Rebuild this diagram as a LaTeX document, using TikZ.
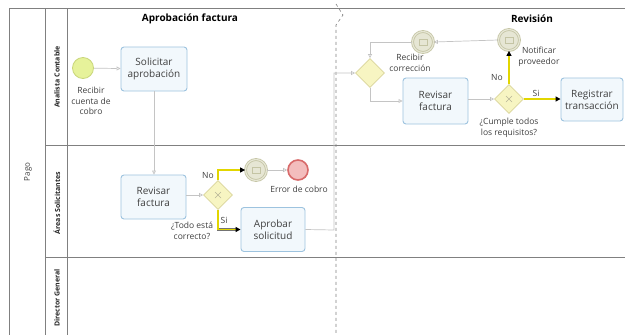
\documentclass[tikz,border=0pt]{standalone}
\usepackage{fontspec}
\setmainfont{Open Sans}
\usetikzlibrary{arrows.meta,shapes.geometric,calc}
\definecolor{frame}{HTML}{808080}
\definecolor{conn}{HTML}{C4C4C4}
\definecolor{taskb}{HTML}{9DC3DF}
\definecolor{taskf}{HTML}{F2F8FC}
\definecolor{txt}{HTML}{404040}
\definecolor{gwf}{HTML}{F7F5C2}
\definecolor{gwb}{HTML}{DAD59A}
\definecolor{evf}{HTML}{E6E6D4}
\definecolor{evb}{HTML}{C4C4A4}
\definecolor{stf}{HTML}{E6F29A}
\definecolor{stb}{HTML}{C9D67A}
\definecolor{endf}{HTML}{F3BDBD}
\definecolor{endb}{HTML}{D86A6A}
\definecolor{hl}{HTML}{E2D600}
\tikzset{
  task/.style={draw=taskb, fill=taskf, rounded corners=3pt, line width=0.9pt,
    minimum width=64pt, minimum height=44pt, align=center, text=txt,
    font=\fontsize{10}{12}\selectfont, inner sep=1pt},
  gw/.style={diamond, draw=gwb, fill=gwf, line width=0.8pt, minimum width=29pt,
    minimum height=29pt, inner sep=0pt},
  startev/.style={circle, draw=stb, fill=stf, line width=0.8pt, minimum size=21pt, inner sep=0pt},
  midev/.style={circle, draw=evb, fill=evf, line width=0.8pt, minimum size=21pt, inner sep=0pt,
    double=evf, double distance=1.2pt},
  endev/.style={circle, draw=endb, fill=endf, line width=1.6pt, minimum size=20pt, inner sep=0pt},
  lbl/.style={text=txt, font=\fontsize{8.5}{10.5}\selectfont, align=center, inner sep=0pt},
  flow/.style={draw=conn, line width=0.7pt, -{Triangle[open, length=4pt, width=4pt]}},
  hot/.style={draw=hl, line width=1.8pt,
    preaction={draw=black!55, line width=2.4pt, arrows=-, shorten >=4pt},
    -{Triangle[length=5pt, width=5pt, black]}},
  lanelbl/.style={rotate=90, font=\bfseries\fontsize{7}{8}\selectfont, text=black!85},
  title/.style={font=\bfseries\fontsize{10}{12}\selectfont},
  frameline/.style={draw=frame, line width=0.8pt},
  gwmark/.style={draw=gwb!70!black!70, line width=0.5pt},
  evmark/.style={draw=evb, line width=0.5pt}
}
\begin{document}
\begin{tikzpicture}[x=1pt, y=-1pt]
\useasboundingbox (0,0) rectangle (625,335);
\fill[white] (0,0) rectangle (625,335);
% frame
\draw[frameline] (9,335) -- (9,8) -- (625,8);
\draw[frameline] (45,8) -- (45,335);
\draw[frameline] (67,8) -- (67,335);
\draw[frameline] (45,145) -- (625,145);
\draw[frameline] (45,257) -- (625,257);
% phase separator
\draw[draw=frame, dashed, line width=0.6pt] (336,4) -- (343,15) -- (336,25) -- (336,335);
% labels of pool and lanes
\node[rotate=90, text=txt, font=\fontsize{8}{9}\selectfont] (pool) at (28,172) {Pago};
\node[lanelbl] (l1) at (57,77) {Analista Contable};
\node[lanelbl] (l2) at (57,203) {Áreas Solicitantes};
\node[lanelbl] (l3) at (57,298) {Director General};
% titles
\node[title] (t1) at (190,19) {Aprobación factura};
\node[title] (t2) at (532,19) {Revisión};
% lane 1, phase 1
\node[startev] (s) at (83,68) {};
\node[lbl] (sl) at (91,101) {Recibir\\cuenta de\\cobro};
\node[task, minimum width=66pt] (sol) at (154,69) {Solicitar\\aprobación};
% lane 2
\node[task, minimum width=65pt] (rev1) at (153.5,197) {Revisar\\factura};
\node[gw] (g1) at (218,195) {};
\draw[gwmark] ($(g1)+(-3,-3)$) -- ($(g1)+(3,3)$) ($(g1)+(-3,3)$) -- ($(g1)+(3,-3)$);
\node[midev] (e1) at (256,170) {};
\draw[evmark] ($(e1)+(-4,-3)$) rectangle ($(e1)+(4,3)$);
\node[endev] (err) at (298,170) {};
\node[lbl] (errl) at (299,189) {Error de cobro};
\node[task] (apr) at (273,229.5) {Aprobar\\solicitud};
\node[lbl] (g1l) at (192,231) {¿Todo está\\correcto?};
% lane 1, phase 2
\node[gw] (g2) at (370,73) {};
\node[midev] (rc) at (423,42) {};
\draw[evmark] ($(rc)+(-4,-3)$) rectangle ($(rc)+(4,3)$);
\node[lbl] (rcl) at (410,63) {Recibir\\corrección};
\node[task, minimum width=65pt, minimum height=46pt] (rev2) at (435.5,101) {Revisar\\factura};
\node[gw] (g3) at (509,99) {};
\draw[gwmark] ($(g3)+(-3,-3)$) -- ($(g3)+(3,3)$) ($(g3)+(-3,3)$) -- ($(g3)+(3,-3)$);
\node[midev] (np) at (509,40) {};
\draw[evmark] ($(np)+(-4,-3)$) rectangle ($(np)+(4,3)$);
\node[lbl] (npl) at (539,57) {Notificar\\proveedor};
\node[task, minimum width=62pt, minimum height=43pt] (reg) at (592,99.5) {Registrar\\transacción};
\node[lbl] (g3l) at (509,128) {¿Cumple todos\\los requisitos?};
\coordinate (turn) at (334,230);
% flows
\draw[flow] (s) -- (sol);
\draw[flow] (sol.south) -- (rev1.north -| sol.south);
\draw[flow] (rev1.east |- g1) -- (g1.west);
\draw[hot] (g1.north) |- (e1.west);
\draw[flow] (e1) -- (err);
\draw[hot] (g1.south) |- (apr.west);
\draw[flow] (apr.east) -- (turn) |- (g2.west);
\draw[flow] (np.west) -- (rc.east);
\draw[flow] (rc.west) -| (g2.north);
\draw[flow] (g2.south) |- (rev2.west);
\draw[flow] (rev2.east |- g3) -- (g3.west);
\draw[hot] (g3.north) -- (np.south);
\draw[hot] (g3.east) -- (reg.west |- g3);
% flow labels
\node[lbl] (no1) at (208,176) {No};
\node[lbl] (si1) at (224,220) {Si};
\node[lbl] (no2) at (497,78) {No};
\node[lbl] (si2) at (536,93) {Si};
\end{tikzpicture}
\end{document}
